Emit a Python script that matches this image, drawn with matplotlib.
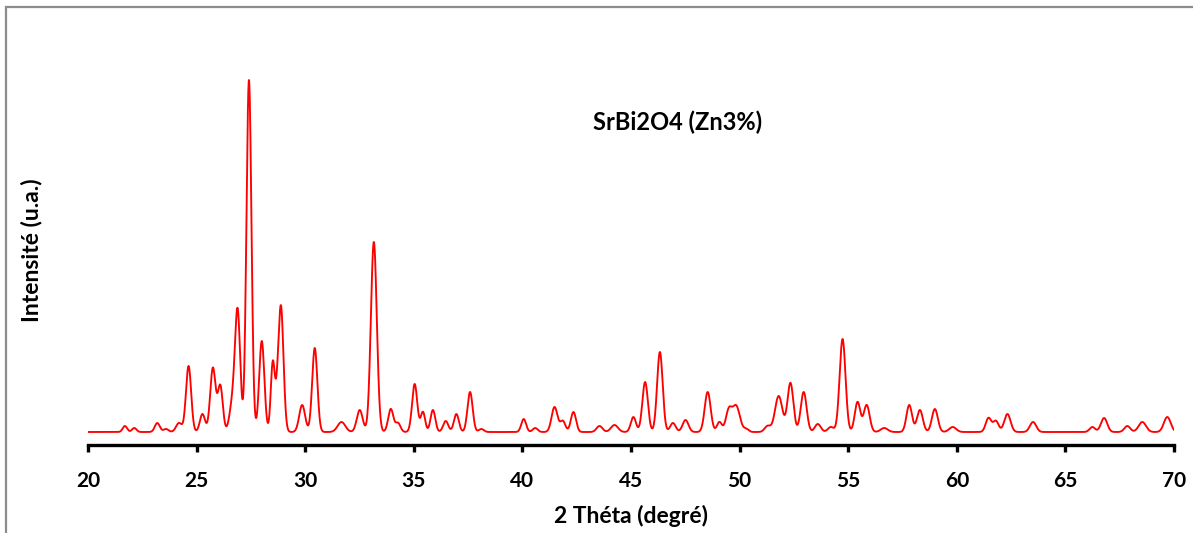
import numpy as np
import matplotlib
matplotlib.use("Agg")
import matplotlib.pyplot as plt
from matplotlib.patches import Rectangle

# Diffraction peaks of SrBi2O4 doped with 3% Zn: position (2θ, degrees),
# height above background (a.u.) and full width at half maximum (degrees)
peak_pos = [21.70, 22.13, 23.19, 23.59, 24.19, 24.63, 25.27, 25.75, 26.09, 26.65,
            26.89, 27.41, 28.00, 28.51, 28.70, 28.88, 29.86, 30.44, 31.67, 32.51,
            33.16, 33.94, 34.27, 35.04, 35.42, 35.88, 36.47, 36.96, 37.59, 38.11,
            40.06, 40.59, 41.48, 41.86, 42.35, 43.55, 44.24, 45.11, 45.65, 46.33,
            46.93, 47.51, 48.53, 49.07, 49.50, 49.84, 50.30, 51.29, 51.80, 52.34,
            52.95, 53.60, 54.20, 54.74, 55.43, 55.85, 56.66, 57.81, 58.30, 58.99,
            59.81, 61.46, 61.80, 62.33, 63.51, 66.24, 66.78, 67.85, 68.54, 69.69]
peak_height = [6, 4, 9, 3, 9, 66, 18, 64, 46, 28,
               118, 352, 91, 70, 14, 126, 27, 84, 10, 22,
               190, 23, 9, 48, 20, 22, 11, 18, 40, 3,
               13, 4, 25, 11, 20, 6, 7, 15, 50, 80,
               9, 12, 40, 10, 21, 26, 3, 6, 36, 49,
               40, 8, 5, 93, 30, 27, 4, 27, 22, 23,
               5, 14, 11, 18, 10, 5, 14, 6, 10, 15]
peak_fwhm = [0.24, 0.24, 0.27, 0.27, 0.32, 0.28, 0.28, 0.29, 0.27, 0.32,
             0.28, 0.27, 0.28, 0.22, 0.18, 0.28, 0.32, 0.28, 0.42, 0.32,
             0.32, 0.28, 0.27, 0.28, 0.24, 0.26, 0.28, 0.27, 0.28, 0.27,
             0.26, 0.27, 0.32, 0.28, 0.28, 0.32, 0.38, 0.28, 0.30, 0.30,
             0.30, 0.32, 0.32, 0.27, 0.32, 0.40, 0.27, 0.32, 0.40, 0.32,
             0.32, 0.32, 0.32, 0.32, 0.30, 0.32, 0.38, 0.30, 0.32, 0.32,
             0.38, 0.30, 0.30, 0.34, 0.34, 0.30, 0.34, 0.32, 0.40, 0.37]
background = 13

x_ticks = [20, 25, 30, 35, 40, 45, 50, 55, 60, 65, 70]

# Build the diffractogram from the peak list
two_theta = np.linspace(20, 70, 5001)
intensity = np.full_like(two_theta, background, dtype=float)
for p, h, w in zip(peak_pos, peak_height, peak_fwhm):
    intensity += h * np.exp(-4 * np.log(2) * (two_theta - p) ** 2 / w ** 2)

plt.rcParams["font.family"] = ["Lato", "DejaVu Sans"]
plt.rcParams["font.weight"] = "bold"

W, H = 1193, 533
fig = plt.figure(figsize=(W / 100, H / 100), dpi=100)

# Outer frame of the chart area
fig.patches.append(Rectangle((6 / W, -0.1), 1.2, 1 - 7 / H + 0.1,
                             transform=fig.transFigure, fill=False,
                             edgecolor="#8c8c8c", linewidth=1.6, zorder=0))

left, right = 88 / W, 1174 / W
bottom, top = 1 - 445 / H, 1 - 60 / H
ax = fig.add_axes([left, bottom, right - left, top - bottom])

ax.plot(two_theta, intensity, color="#ff0000", linewidth=1.35)

ax.set_xlim(20, 70)
ax.set_ylim(0, 385)
ax.set_xticks(x_ticks)
ax.set_yticks([])
for s in ("top", "right", "left"):
    ax.spines[s].set_visible(False)
ax.spines["bottom"].set_linewidth(2.4)
ax.spines["bottom"].set_color("black")
ax.tick_params(axis="x", direction="out", length=5, width=2.4,
               labelsize=15, pad=14)
for lbl in ax.get_xticklabels():
    lbl.set_fontweight("bold")

ax.set_xlabel("2 Théta (degré)", fontsize=16.5, fontweight="bold", labelpad=10)
fig.text(32 / W, 1 - 250 / H, "Intensité (u.a.)", rotation=90,
         ha="center", va="center", fontsize=16.5, fontweight="bold")
fig.text(678 / W, 1 - 122 / H, "SrBi2O4 (Zn3%)", ha="center", va="center",
         fontsize=17, fontweight="bold")

fig.savefig("out.png", dpi=100)
